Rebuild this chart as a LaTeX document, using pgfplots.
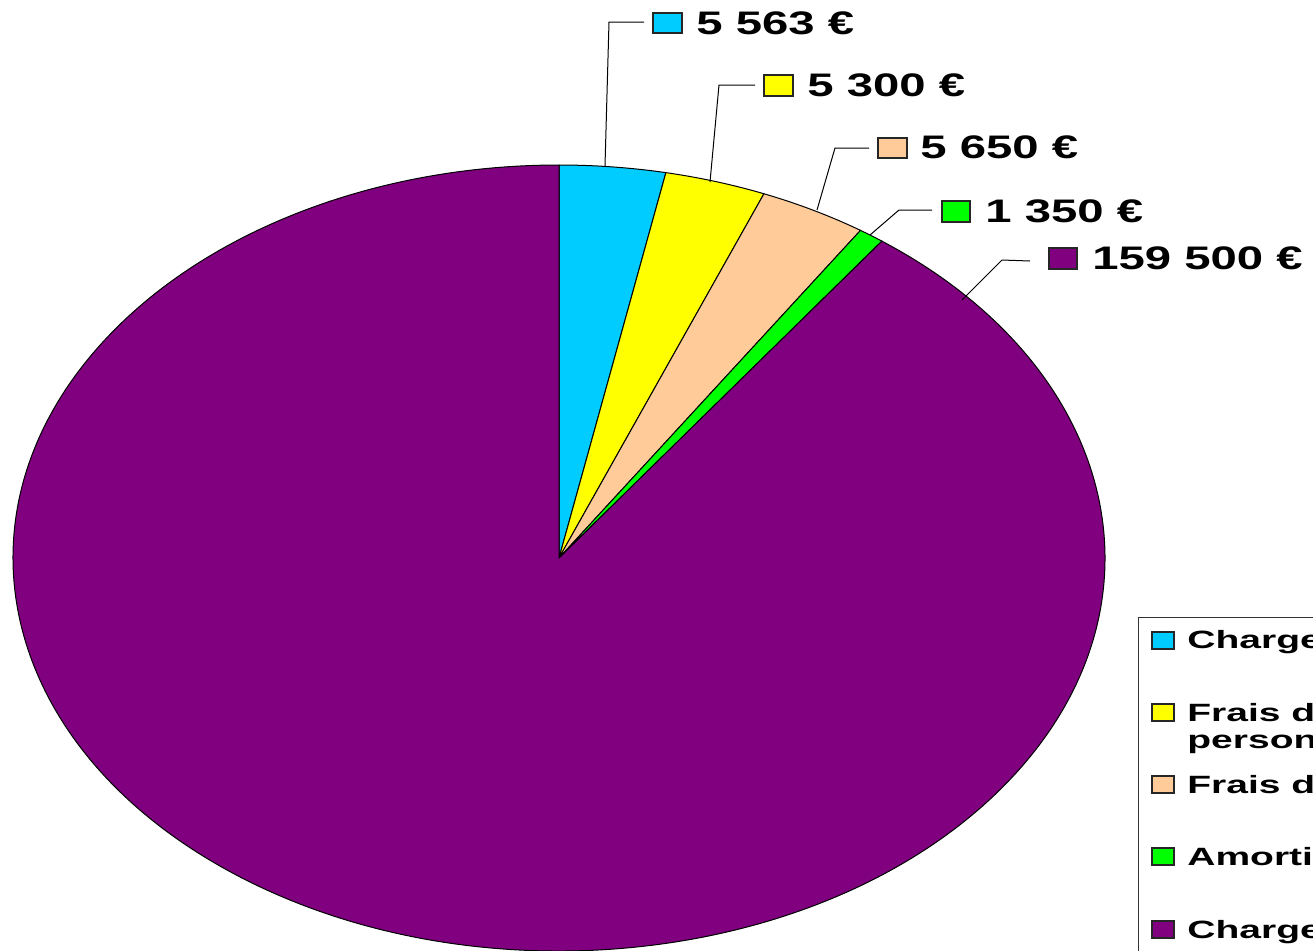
\documentclass[border=0pt]{standalone}
\usepackage{fontspec}
\usepackage{pgfplots}
\pgfplotsset{compat=1.18}
\newfontfamily\lblfont{Liberation Sans}[FakeStretch=1.45]
\newfontfamily\legfont{Liberation Sans}[FakeStretch=1.56]
\definecolor{cA}{HTML}{00CCFF}
\definecolor{cB}{HTML}{FFFF00}
\definecolor{cC}{HTML}{FFCC99}
\definecolor{cD}{HTML}{00FF00}
\definecolor{cE}{HTML}{800080}
% values (EUR)
\def\vA{5563}
\def\vB{5300}
\def\vC{5650}
\def\vD{1350}
\def\vE{159500}
\edef\tot{\fpeval{\vA+\vB+\vC+\vD+\vE}}
\edef\aA{\fpeval{90-360*\vA/\tot}}
\edef\aB{\fpeval{\aA-360*\vB/\tot}}
\edef\aC{\fpeval{\aB-360*\vC/\tot}}
\edef\aD{\fpeval{\aC-360*\vD/\tot}}
\def\rx{273pt}
\def\ry{196.5pt}
\begin{document}
\begin{tikzpicture}
\useasboundingbox (0,0) rectangle (656.5pt,475pt);
\clip (0,0) rectangle (656.5pt,475pt);
\begin{axis}[at={(0,0)}, anchor=south west, scale only axis,
  width=656.5pt, height=475pt, xmin=0, xmax=1313, ymin=0, ymax=950,
  y dir=reverse, axis lines=none, clip=false]
\tikzset{wedge/.style={draw=black, line width=0.5pt},
  sq/.style={draw=black!85, line width=0.8pt}}
\filldraw[wedge, fill=cA] (axis cs:559,558) -- ++(90:\rx\space and \ry) arc[start angle=90, end angle=\aA, x radius=\rx, y radius=\ry] -- cycle;
\filldraw[wedge, fill=cB] (axis cs:559,558) -- ++(\aA:\rx\space and \ry) arc[start angle=\aA, end angle=\aB, x radius=\rx, y radius=\ry] -- cycle;
\filldraw[wedge, fill=cC] (axis cs:559,558) -- ++(\aB:\rx\space and \ry) arc[start angle=\aB, end angle=\aC, x radius=\rx, y radius=\ry] -- cycle;
\filldraw[wedge, fill=cD] (axis cs:559,558) -- ++(\aC:\rx\space and \ry) arc[start angle=\aC, end angle=\aD, x radius=\rx, y radius=\ry] -- cycle;
\filldraw[wedge, fill=cE] (axis cs:559,558) -- ++(\aD:\rx\space and \ry) arc[start angle=\aD, end angle=-270, x radius=\rx, y radius=\ry] -- cycle;
% leader lines
\draw[line width=0.5pt] (axis cs:605,166) -- (axis cs:609,22) -- (axis cs:644,22);
\draw[line width=0.5pt] (axis cs:710,182) -- (axis cs:719,85) -- (axis cs:755,85);
\draw[line width=0.5pt] (axis cs:817,210) -- (axis cs:835,148) -- (axis cs:869,148);
\draw[line width=0.5pt] (axis cs:870,235) -- (axis cs:899,210) -- (axis cs:932,210);
\draw[line width=0.5pt] (axis cs:962,300) -- (axis cs:1002,260) -- (axis cs:1030,261);
% label squares
\filldraw[sq, fill=cA] (axis cs:653,13) rectangle (axis cs:682,33);
\filldraw[sq, fill=cB] (axis cs:764,75) rectangle (axis cs:793,96);
\filldraw[sq, fill=cC] (axis cs:878,138) rectangle (axis cs:907,158);
\filldraw[sq, fill=cD] (axis cs:942,201) rectangle (axis cs:970,222);
\filldraw[sq, fill=cE] (axis cs:1049,248) rectangle (axis cs:1077,269);
\tikzset{lbl/.style={anchor=base west, inner sep=0pt, font=\lblfont\bfseries\fontsize{16.3pt}{16.3pt}\selectfont}}
\node[lbl] at (axis cs:696,34) {5 563 €};
\node[lbl] at (axis cs:807,96) {5 300 €};
\node[lbl] at (axis cs:920,158) {5 650 €};
\node[lbl] at (axis cs:985,222) {1 350 €};
\node[lbl] at (axis cs:1092,269) {159 500 €};
% legend
\draw[line width=0.5pt, draw=black!80, fill=white] (axis cs:1138,617) rectangle (axis cs:1400,1000);
\filldraw[sq, fill=cA] (axis cs:1152,632) rectangle (axis cs:1174,649);
\filldraw[sq, fill=cB] (axis cs:1152,704) rectangle (axis cs:1174,721);
\filldraw[sq, fill=cC] (axis cs:1152,776) rectangle (axis cs:1174,793);
\filldraw[sq, fill=cD] (axis cs:1152,848) rectangle (axis cs:1174,865);
\filldraw[sq, fill=cE] (axis cs:1152,921) rectangle (axis cs:1174,938);
\tikzset{leg/.style={anchor=base west, inner sep=0pt, font=\legfont\bfseries\fontsize{12.5pt}{12.5pt}\selectfont}}
\node[leg] at (axis cs:1187,648) {Charges externes};
\node[leg] at (axis cs:1187,721) {Frais de};
\node[leg] at (axis cs:1187,748) {personnel};
\node[leg] at (axis cs:1187,793) {Frais de d\'eplacement};
\node[leg] at (axis cs:1187,865) {Amortissements};
\node[leg] at (axis cs:1187,938) {Charges financi\`eres};
\end{axis}
\end{tikzpicture}
\end{document}
